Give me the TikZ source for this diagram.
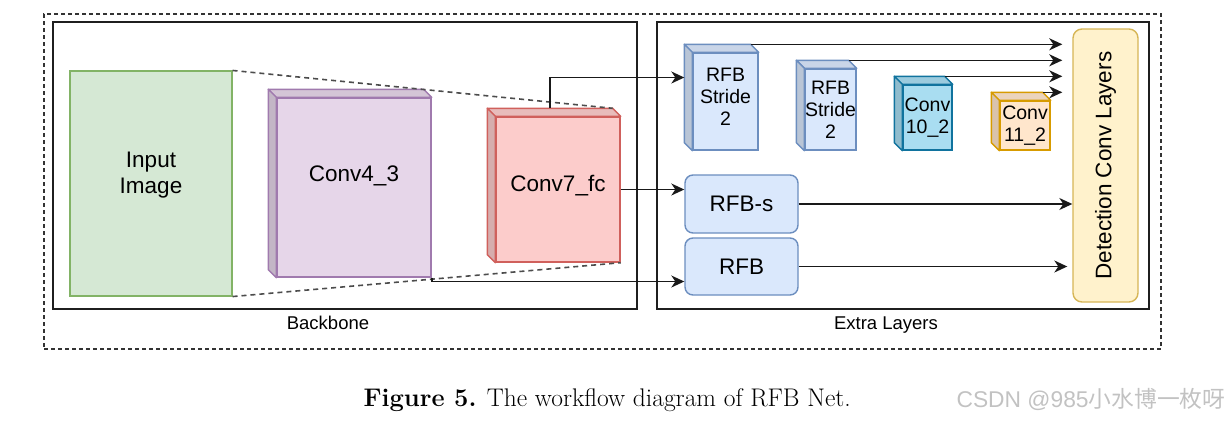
\documentclass[tikz,border=0pt]{standalone}
\usepackage{fontspec}
\setsansfont{Liberation Sans}
\newfontfamily\cjkfont{Noto Sans CJK SC}
\usetikzlibrary{arrows.meta}
\definecolor{greenfill}{HTML}{D5E8D4}
\definecolor{greendraw}{HTML}{82B366}
\definecolor{purplefill}{HTML}{E6D6E9}
\definecolor{purpledraw}{HTML}{A07AAE}
\definecolor{redfill}{HTML}{FCCCCB}
\definecolor{reddraw}{HTML}{D0605C}
\definecolor{bluefill}{HTML}{DAE8FC}
\definecolor{bluedraw}{HTML}{6C8EBF}
\definecolor{cyanfill}{HTML}{A9DDF1}
\definecolor{cyandraw}{HTML}{10739E}
\definecolor{orangefill}{HTML}{FFE6CC}
\definecolor{orangedraw}{HTML}{D79B00}
\definecolor{yellowfill}{HTML}{FFF2CC}
\definecolor{yellowdraw}{HTML}{D6B656}
\tikzset{layer text/.style={font=\sffamily\fontsize{22.5}{26}\selectfont, align=center},
         small text/.style={font=\sffamily\fontsize{19.5}{22}\selectfont, align=center},
         label text/.style={font=\sffamily\fontsize{18.5}{22}\selectfont},
         layer/.style={draw, line width=1.4pt, inner sep=0pt, layer text},
         small layer/.style={layer, small text},
         block/.style={layer, rounded corners=8pt, fill=bluefill, draw=bluedraw},
         frame/.style={draw=black!88, line width=1.8pt, inner sep=0pt},
         conn/.style={draw=black!90, line width=1.6pt, -{Stealth[length=13pt,width=12pt,inset=4pt]}},
         toward/.style={conn, shorten >=10pt},
         guide/.style={draw=black!70, line width=1.6pt, dash pattern=on 5pt off 4pt}}
% top and left faces of a cube, drawn on a front node
\newcommand{\cubedepth}[3]{%
  \filldraw[fill=#2!92!black, draw=#3, line width=1.4pt, line join=round]
    (#1.north west) -- ([shift={(-8,-8)}]#1.north west)
    -- ([shift={(-8,-8)}]#1.north east) -- (#1.north east) -- cycle;
  \filldraw[fill=#2!85!black, draw=#3, line width=1.4pt, line join=round]
    (#1.north west) -- ([shift={(-8,-8)}]#1.north west)
    -- ([shift={(-8,-8)}]#1.south west) -- (#1.south west) -- cycle;
}

\begin{document}
\begin{tikzpicture}[x=1pt,y=-1pt]
  \useasboundingbox (0,0) rectangle (1229,421);

  % frames
  \node[draw=black!80, line width=1.5pt, dash pattern=on 4pt off 3pt,
        minimum width=1117pt, minimum height=335pt] (outer) at (602.5,181.5) {};
  \node[frame, minimum width=584pt, minimum height=287pt,
        label={[label text, label distance=3pt, xshift=-17pt]below:Backbone}] (backbone) at (345,165.5) {};
  \node[frame, minimum width=492pt, minimum height=287pt,
        label={[label text, label distance=3pt, xshift=-17pt]below:Extra Layers}] (extra) at (903,165.5) {};

  % backbone
  \node[layer, fill=greenfill, draw=greendraw, line width=1.1pt,
        minimum width=162pt, minimum height=225pt,
        label={[layer text, yshift=8pt]center:Input\\Image}] (input) at (151,183.5) {};
  \node[layer, fill=purplefill, draw=purpledraw, minimum width=154pt, minimum height=179pt,
        label={[layer text, yshift=12pt]center:Conv4\_3}] (conv43) at (354,187.5) {};
  \cubedepth{conv43}{purplefill}{purpledraw}
  \node[layer, fill=redfill, draw=reddraw, minimum width=124pt, minimum height=145pt,
        label={[layer text, yshift=4pt]center:Conv7\_fc}] (conv7) at (558,189.5) {};
  \cubedepth{conv7}{redfill}{reddraw}
  \draw[guide] (input.north east) -- ([shift={(-8,-8)}]conv7.north east);
  \draw[guide] (input.south east) -- (conv7.south east);

  % extra layers
  \node[small layer, fill=bluefill, draw=bluedraw, minimum width=65pt, minimum height=97pt,
        label={[small text, yshift=5pt]center:RFB\\Stride\\2}] (stride1) at (725.5,101.5) {};
  \cubedepth{stride1}{bluefill}{bluedraw}
  \node[small layer, fill=bluefill, draw=bluedraw, minimum width=49pt, minimum height=81pt] (stride2) at (830.5,109.5) {RFB\\Stride\\2};
  \cubedepth{stride2}{bluefill}{bluedraw}
  \node[small layer, fill=cyanfill, draw=cyandraw, minimum width=49pt, minimum height=65pt] (conv10) at (927.5,117.5) {Conv\\10\_2};
  \cubedepth{conv10}{cyanfill}{cyandraw}
  \node[small layer, fill=orangefill, draw=orangedraw, minimum width=50pt, minimum height=49pt] (conv11) at (1025,125.5) {Conv\\11\_2};
  \cubedepth{conv11}{orangefill}{orangedraw}
  \node[block, minimum width=113pt, minimum height=58pt] (rfbs) at (741.5,204) {RFB-s};
  \node[block, minimum width=113pt, minimum height=57pt] (rfb) at (741.5,266.5) {RFB};
  \node[layer, rounded corners=9pt, fill=yellowfill, draw=yellowdraw,
        minimum width=65pt, minimum height=273pt] (det) at (1105.5,165.5) {\rotatebox{90}{Detection Conv Layers}};

  % connectors
  \coordinate (c7top) at ([shift={(-8,-8)}]conv7.north);
  \coordinate (s1in) at ([shift={(-8,-24)}]stride1.west);
  \draw[conn] (c7top) |- (s1in);
  \draw[conn] (conv7.east) -- (conv7.east -| rfbs.west);
  \draw[conn] (conv43.south east) |- ([yshift=-15pt]rfb.west);
  \coordinate (s1top) at ([shift={(-8,-8)}]stride1.north east);
  \coordinate (s2top) at ([shift={(-8,-8)}]stride2.north east);
  \coordinate (c10top) at ([shift={(-8,-8)}]conv10.north east);
  \coordinate (c11top) at ([shift={(-8,-8)}]conv11.north east);
  \draw[toward] (s1top) -- (s1top -| det.west);
  \draw[toward] (s2top) -- (s2top -| det.west);
  \draw[toward] (c10top) -- (c10top -| det.west);
  \draw[toward] (c11top) -- (c11top -| det.west);
  \draw[conn] (rfbs) -- (rfbs -| det.west);
  \draw[conn, shorten >=5pt] (rfb) -- (rfb -| det.west);

  % caption
  \node[anchor=base west, font=\fontsize{25.5}{30}\selectfont] (caption) at (360,406.7)
    {\textbf{Figure 5.} The workflow diagram of RFB Net.};
  \node[anchor=base west, text=black!24, font=\sffamily\fontsize{22.8}{27}\selectfont] (mark) at (953,407.5)
    {CSDN @985{\cjkfont 小水博一枚呀}};
\end{tikzpicture}
\end{document}
